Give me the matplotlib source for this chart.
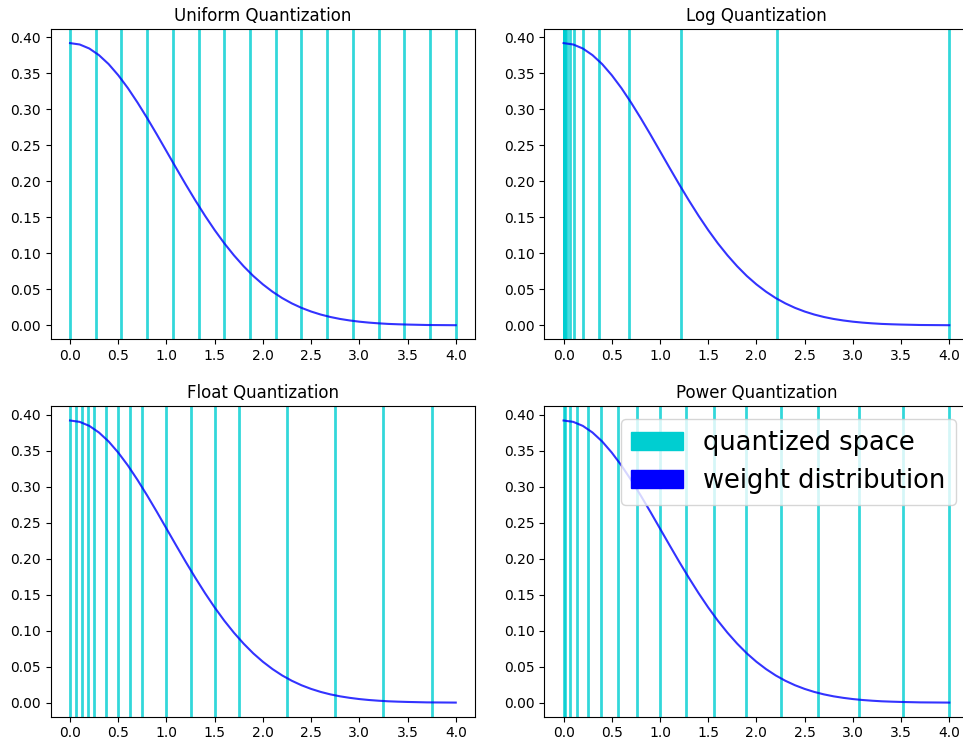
import matplotlib
matplotlib.use("Agg")
import matplotlib.pyplot as plt
from matplotlib.patches import Patch

# weight distribution (step 0.1)
weight_x = [round(i * 0.1, 1) for i in range(41)]
weight_y = [0.3920, 0.3901, 0.3845, 0.3753, 0.3629, 0.3474, 0.3295, 0.3094,
            0.2878, 0.2652, 0.2419, 0.2186, 0.1956, 0.1734, 0.1522, 0.1323,
            0.1139, 0.0972, 0.0821, 0.0686, 0.0569, 0.0467, 0.0379, 0.0305,
            0.0243, 0.0192, 0.0150, 0.0116, 0.0089, 0.0068, 0.0051, 0.0038,
            0.0028, 0.0020, 0.0015, 0.0011, 0.0008, 0.0005, 0.0004, 0.0003,
            0.0002]

# quantization levels
uniform_levels = [0.0, 0.267, 0.533, 0.8, 1.067, 1.333, 1.6, 1.867, 2.133,
                  2.4, 2.667, 2.933, 3.2, 3.467, 3.733, 4.0]
log_levels = [0.0, 0.0005, 0.001, 0.0018, 0.0032, 0.0058, 0.0105, 0.019,
              0.035, 0.063, 0.113, 0.205, 0.372, 0.674, 1.22, 2.21, 4.0]
float_levels = [0.0, 0.0625, 0.125, 0.1875, 0.25, 0.375, 0.5, 0.625, 0.75,
                1.0, 1.25, 1.5, 1.75, 2.25, 2.75, 3.25, 3.75]
power_levels = [0.0, 0.0156, 0.0625, 0.1406, 0.25, 0.3906, 0.5625, 0.7656,
                1.0, 1.2656, 1.5625, 1.8906, 2.25, 2.6406, 3.0625, 3.5156, 4.0]

titles = ["Uniform Quantization", "Log Quantization",
          "Float Quantization", "Power Quantization"]
levels = [uniform_levels, log_levels, float_levels, power_levels]

LINE_COLOR = "darkturquoise"
CURVE_COLOR = "blue"

fig = plt.figure(figsize=(9.63, 7.42), dpi=100)
# the right column runs a little past the picture edge, as in the original
w, h = 0.4406, 0.4182
lefts = [0.0527, 0.5652]
bottoms = [0.5427, 0.0341]
axes = [fig.add_axes([lefts[c], bottoms[r], w, h])
        for r in range(2) for c in range(2)]

for ax, title, lv in zip(axes, titles, levels):
    for q in lv:
        ax.axvline(q, color=LINE_COLOR, alpha=0.8, linewidth=2)
    ax.plot(weight_x, weight_y, color=CURVE_COLOR, alpha=0.8, linewidth=1.5)
    ax.set_title(title)

handles = [Patch(color=LINE_COLOR, label="quantized space"),
           Patch(color=CURVE_COLOR, label="weight distribution")]
axes[3].legend(handles=handles, loc="upper right", fontsize=18.5)

fig.savefig("out.png", dpi=100)
